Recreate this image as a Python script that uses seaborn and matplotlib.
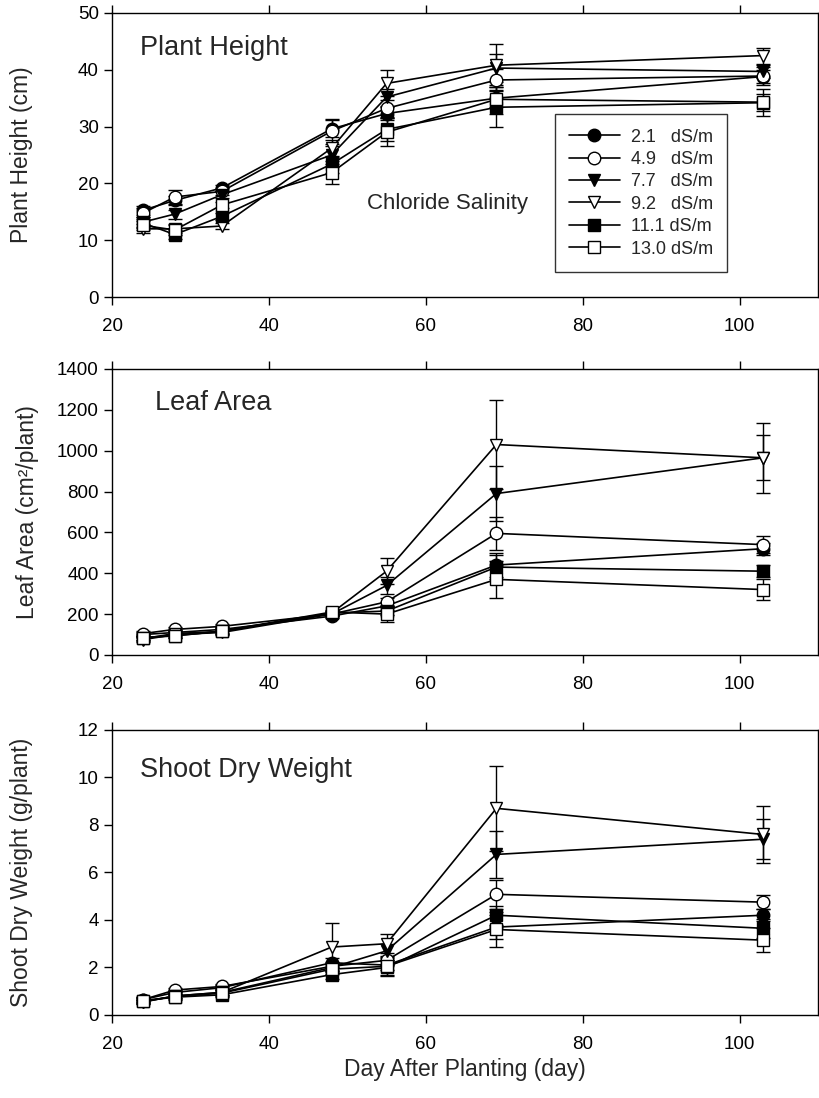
import numpy as np
import pandas as pd
import matplotlib
matplotlib.use('Agg')
import matplotlib.pyplot as plt
import seaborn as sns

# days after planting
days = [24, 28, 34, 48, 55, 69, 103]

# legend labels and marker styles
labels = ['2.1   dS/m', '4.9   dS/m', '7.7   dS/m', '9.2   dS/m', '11.1 dS/m', '13.0 dS/m']
markers = ['o', 'o', 'v', 'v', 's', 's']
fills = ['black', 'white', 'black', 'white', 'black', 'white']

# plant height (cm)
height_21 = [15.3, 17.0, 19.2, 29.6, 32.3, 35.0, 38.8]
height_49 = [14.8, 17.6, 18.6, 29.2, 33.2, 38.2, 38.9]
height_77 = [13.2, 14.6, 18.0, 25.0, 35.2, 40.3, 39.7]
height_92 = [12.0, 12.0, 12.5, 26.2, 37.6, 40.8, 42.5]
height_111 = [13.0, 11.0, 14.2, 23.4, 29.5, 33.4, 34.2]
height_130 = [12.6, 11.8, 16.2, 21.9, 29.0, 34.8, 34.3]
height_err_21 = [0.8, 0.8, 0.6, 1.5, 1.2, 1.5, 1.2]
height_err_49 = [0.8, 1.2, 0.6, 2.2, 1.5, 2.0, 1.5]
height_err_77 = [0.8, 0.8, 0.6, 1.5, 1.5, 2.5, 1.2]
height_err_92 = [0.8, 0.8, 0.6, 1.5, 2.3, 3.8, 1.4]
height_err_111 = [0.8, 0.8, 0.6, 1.5, 2.0, 3.5, 1.5]
height_err_130 = [0.8, 0.8, 0.6, 2.0, 2.5, 2.5, 2.4]

# leaf area (cm2/plant)
leaf_21 = [100, 110, 125, 190, 240, 440, 520]
leaf_49 = [105, 125, 140, 200, 260, 595, 540]
leaf_77 = [75, 100, 110, 200, 340, 790, 965]
leaf_92 = [80, 105, 115, 205, 410, 1030, 965]
leaf_111 = [85, 95, 115, 205, 215, 430, 410]
leaf_130 = [85, 93, 117, 210, 200, 370, 320]
leaf_err_21 = [10, 10, 10, 10, 20, 60, 30]
leaf_err_49 = [10, 10, 10, 10, 20, 80, 42]
leaf_err_77 = [10, 10, 10, 10, 40, 135, 110]
leaf_err_92 = [10, 10, 10, 10, 65, 220, 170]
leaf_err_111 = [10, 10, 10, 10, 20, 60, 30]
leaf_err_130 = [10, 10, 10, 10, 40, 90, 50]

# shoot dry weight (g/plant)
shoot_21 = [0.65, 0.95, 1.15, 2.2, 2.1, 3.7, 4.2]
shoot_49 = [0.65, 1.05, 1.2, 2.05, 2.3, 5.08, 4.75]
shoot_77 = [0.55, 0.8, 0.95, 2.0, 2.7, 6.76, 7.4]
shoot_92 = [0.55, 0.8, 0.95, 2.86, 3.0, 8.7, 7.6]
shoot_111 = [0.6, 0.75, 0.85, 1.7, 2.0, 4.2, 3.65]
shoot_130 = [0.6, 0.77, 0.92, 1.93, 2.05, 3.6, 3.15]
shoot_err_21 = [0.1, 0.1, 0.1, 0.2, 0.2, 0.5, 0.25]
shoot_err_49 = [0.1, 0.1, 0.1, 0.2, 0.2, 0.6, 0.3]
shoot_err_77 = [0.1, 0.1, 0.1, 0.2, 0.3, 1.0, 0.85]
shoot_err_92 = [0.1, 0.1, 0.1, 1.0, 0.4, 1.8, 1.2]
shoot_err_111 = [0.1, 0.1, 0.1, 0.2, 0.3, 0.4, 0.4]
shoot_err_130 = [0.1, 0.1, 0.1, 0.2, 0.4, 0.75, 0.5]

panels = [
    ('Plant Height', 'Plant Height (cm)', (0, 50), np.arange(0, 51, 10),
     [height_21, height_49, height_77, height_92, height_111, height_130],
     [height_err_21, height_err_49, height_err_77, height_err_92, height_err_111, height_err_130]),
    ('Leaf Area', 'Leaf Area (cm²/plant)', (0, 1400), np.arange(0, 1401, 200),
     [leaf_21, leaf_49, leaf_77, leaf_92, leaf_111, leaf_130],
     [leaf_err_21, leaf_err_49, leaf_err_77, leaf_err_92, leaf_err_111, leaf_err_130]),
    ('Shoot Dry Weight', 'Shoot Dry Weight (g/plant)', (0, 12), np.arange(0, 13, 2),
     [shoot_21, shoot_49, shoot_77, shoot_92, shoot_111, shoot_130],
     [shoot_err_21, shoot_err_49, shoot_err_77, shoot_err_92, shoot_err_111, shoot_err_130]),
]

sns.set_style('ticks')
plt.rcParams['font.family'] = ['Liberation Sans', 'DejaVu Sans']
plt.rcParams['axes.linewidth'] = 1.0

fig = plt.figure(figsize=(8.2, 10.98), dpi=100)
bottoms = [0.7295, 0.4035, 0.0756]
heights = [0.2587, 0.2605, 0.2596]
title_x = [0.04, 0.061, 0.04]
title_y = [0.877, 0.88, 0.86]
ylab_x = [-0.112, -0.103, -0.112]

for i, (title, ylab, ylim, yticks, series, errs) in enumerate(panels):
    ax = fig.add_axes([0.1366, bottoms[i], 0.861, heights[i]])
    for j in range(6):
        df = pd.DataFrame({'day': days, 'value': series[j]})
        ax.errorbar(days, series[j], yerr=errs[j], fmt='none', ecolor='black',
                    elinewidth=1.0, capsize=5, capthick=1.0, zorder=1.5)
        sns.lineplot(data=df, x='day', y='value', ax=ax, color='black', lw=1.2,
                     marker=markers[j], markersize=9 if markers[j] != 's' else 8.5,
                     markerfacecolor=fills[j], markeredgecolor='black',
                     markeredgewidth=1.0, label=labels[j], zorder=2 + j * 0.1)
    ax.set_xlim(20, 110)
    ax.set_ylim(*ylim)
    ax.set_xticks([20, 40, 60, 80, 100])
    ax.set_yticks(yticks)
    ax.tick_params(direction='out', length=6, width=1, top=True, labelsize=13.5, colors='black')
    ax.tick_params(axis='x', pad=9)
    for s in ax.spines.values():
        s.set_color('black')
    ax.set_ylabel(ylab, fontsize=16.5)
    ax.yaxis.set_label_coords(ylab_x[i], 0.5)
    ax.set_xlabel('')
    ax.text(title_x[i], title_y[i], title, transform=ax.transAxes, fontsize=19.5, va='center', ha='left')
    if i == 0:
        ax.text(0.361, 0.33, 'Chloride Salinity', transform=ax.transAxes, fontsize=16, va='center', ha='left')
        leg = ax.legend(loc='upper left', bbox_to_anchor=(0.627, 0.644), borderaxespad=0,
                        fontsize=13, handlelength=2.8, labelspacing=0.3, frameon=True,
                        fancybox=False, edgecolor='black', borderpad=0.8, handletextpad=0.6)
        leg.get_frame().set_linewidth(1.0)
    else:
        ax.get_legend().remove()
    if i == 2:
        ax.set_xlabel('Day After Planting (day)', fontsize=16.5, labelpad=4)

fig.savefig('out.png', dpi=100)
